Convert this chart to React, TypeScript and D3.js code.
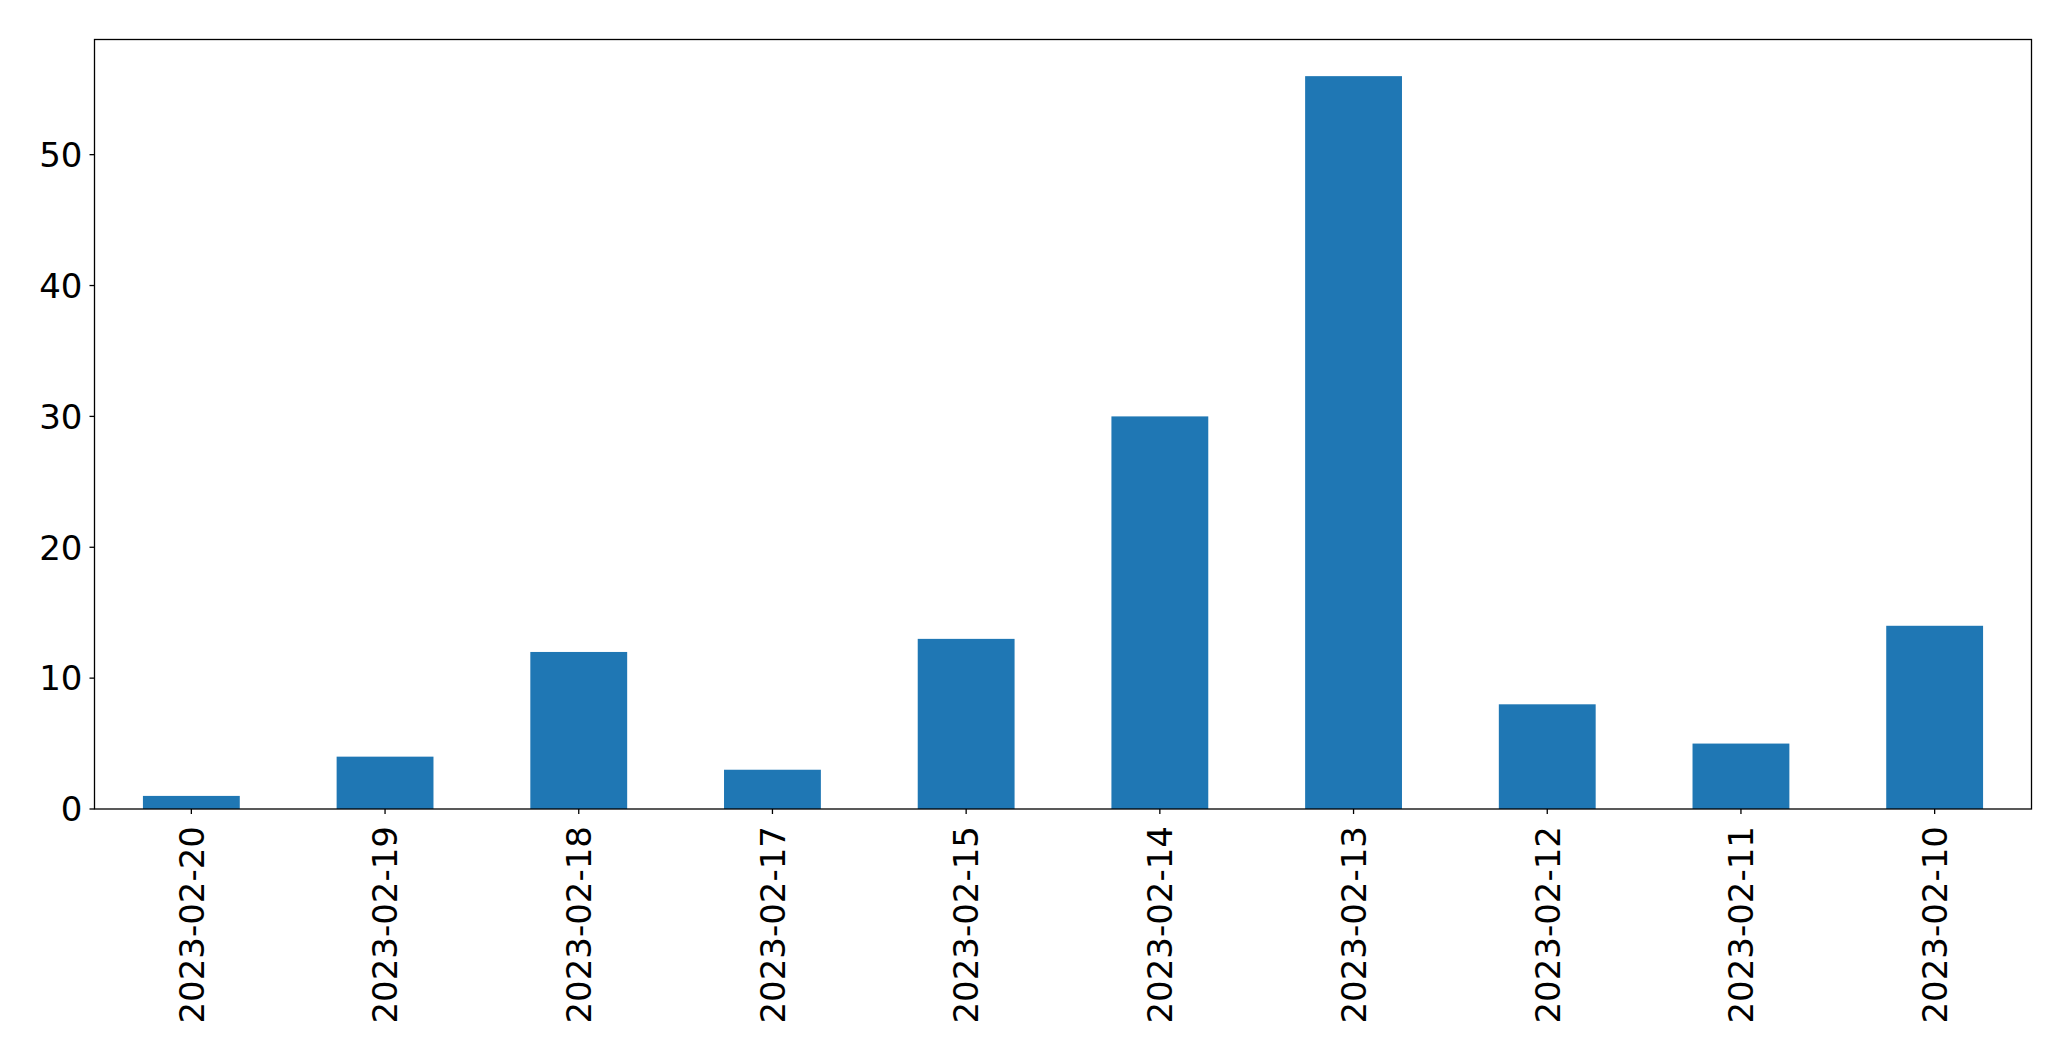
import React from "react";
import * as d3 from "d3";

const categories = ["2023-02-20", "2023-02-19", "2023-02-18", "2023-02-17", "2023-02-15", "2023-02-14", "2023-02-13", "2023-02-12", "2023-02-11", "2023-02-10"];
const values = [1, 4, 12, 3, 13, 30, 56, 8, 5, 14];
const yTicks = [0, 10, 20, 30, 40, 50];

const W = 2071;
const H = 1061;
const M = { left: 94.5, right: 2031.5, top: 39.5, bottom: 809 };
const FONT = "'DejaVu Sans', sans-serif";
const FS = 34;

export default function App() {
  const x = d3.scaleLinear().domain([-0.5, categories.length - 0.5]).range([M.left, M.right]);
  const yMax = (d3.max(values) as number) * 1.05;
  const y = d3.scaleLinear().domain([0, yMax]).range([M.bottom, M.top]);
  const bw = x(0.25) - x(-0.25);
  return (
    <svg width={W} height={H} style={{ position: "absolute", left: 0, top: 0, background: "#fff" }} fontFamily={FONT}>
      <rect x={0} y={0} width={W} height={H} fill="#fff" />
      {values.map((v, i) => (
        <rect key={i} x={x(i) - bw / 2} y={y(v)} width={bw} height={y(0) - y(v)} fill="#1f77b4" />
      ))}
      <rect x={M.left} y={M.top} width={M.right - M.left} height={M.bottom - M.top} fill="none" stroke="#000" strokeWidth={1.3} />
      {yTicks.map((t) => (
        <g key={t} transform={`translate(${M.left},${y(t)})`}>
          <line x1={-5} x2={0} stroke="#000" strokeWidth={1.3} />
          <text x={-12} dy="0.36em" textAnchor="end" fontSize={FS} fill="#000">{t}</text>
        </g>
      ))}
      {categories.map((c, i) => (
        <g key={c} transform={`translate(${x(i)},${M.bottom})`}>
          <line y1={0} y2={5} stroke="#000" strokeWidth={1.3} />
          <text transform="translate(0,17) rotate(-90)" dy="0.36em" textAnchor="end" fontSize={FS} fill="#000">{c}</text>
        </g>
      ))}
    </svg>
  );
}
